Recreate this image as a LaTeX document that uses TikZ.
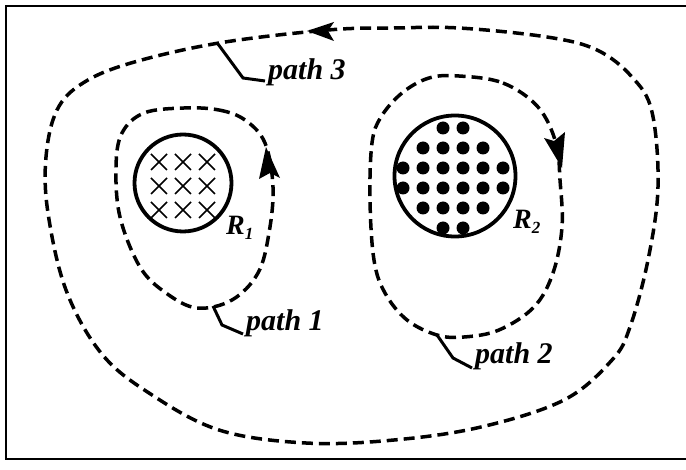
\documentclass[tikz,border=0pt]{standalone}
\usepackage{fontspec}
\setmainfont{Liberation Serif}
\begin{document}
\begin{tikzpicture}[x=1pt,y=-1pt,
  dpath/.style={line width=3.5pt, dash pattern=on 11pt off 6pt},
  leader/.style={line width=3pt, line join=miter},
  region/.style={draw, circle, line width=3.8pt, inner sep=0pt},
  crossmark/.style={line width=1.7pt},
  lbl/.style={font=\fontsize{30}{32}\selectfont\bfseries\itshape, inner sep=0pt, anchor=base west},
  rlbl/.style={font=\fontsize{28}{30}\selectfont\bfseries\itshape, inner sep=0pt, anchor=base west},
  tipfill/.style={fill=black}]
\useasboundingbox (0,0) rectangle (686,470);
% frame
\draw[line width=2.4pt] (686,6) -- (6,6) -- (6,459) -- (686,459);

% region R1 with crosses
\node[region, minimum size=97pt] (R1) at (183,183) {};
\foreach \cx in {159,183,207}{
  \foreach \cy in {162,186,210}{
    \draw[crossmark] (\cx-8,\cy-8) -- (\cx+8,\cy+8) (\cx-8,\cy+8) -- (\cx+8,\cy-8);
  }
}
% region R2 with dots
\node[region, minimum size=121pt] (R2) at (455,176) {};
\foreach \cx in {443,463}{ \fill (\cx,128) circle (6.5pt); \fill (\cx,228) circle (6.5pt);}
\foreach \cx in {423,443,463,483}{ \fill (\cx,148) circle (6.5pt); \fill (\cx,208) circle (6.5pt);}
\foreach \cx in {403,423,443,463,483,503}{ \fill (\cx,168) circle (6.5pt); \fill (\cx,188) circle (6.5pt);}

% labels R
\node[rlbl] (R1l) at (226,235) {R\raisebox{-5pt}{\fontsize{17}{17}\selectfont 1}};
\node[rlbl] (R2l) at (513,229) {R\raisebox{-5pt}{\fontsize{17}{17}\selectfont 2}};

% path 3
\draw[dpath] plot[smooth cycle, tension=0.6] coordinates {
 (328,30) (394,28) (459,28) (547,37) (597,50) (632,77) (652,112) (658,187)
 (648,260) (630,327) (612,360) (564,400) (481,427) (394,440) (306,443)
 (219,430) (149,393) (101,353) (66,290) (48,213) (46,157) (57,110) (83,83)
 (131,63) (219,43)};
% path 1
\draw[dpath] plot[smooth cycle, tension=0.6] coordinates {
 (184,108) (219,110) (245,120) (265,143) (273,187) (269,233) (258,273)
 (232,300) (197,308) (166,293) (140,267) (120,217) (116,167) (122,133) (144,113)};
% path 2
\draw[dpath] plot[smooth cycle, tension=0.6] coordinates {
 (459,76) (503,83) (538,107) (556,143) (560,180) (562,227) (553,273)
 (534,307) (499,330) (464,337) (437,335) (407,320) (385,293) (374,260)
 (370,200) (372,143) (381,117) (402,93) (429,78)};

% arrowheads
\fill[tipfill] (307,31) -- (334,22) -- (328,31) -- (334,41) -- cycle;
\fill[tipfill] (266,147) -- (280,178) -- (270,173) -- (259,179) -- cycle;
\fill[tipfill] (562,168) -- (544,138) -- (554,141) -- (565,132) -- cycle;

% path labels with leaders
\node[lbl] (p3) at (268,80) {path 3};
\node[lbl] (p1) at (246,331) {path 1};
\node[lbl] (p2) at (475,364) {path 2};
\coordinate (b3) at (218,44);
\coordinate (b1) at (213,306);
\coordinate (b2) at (437,335);
\draw[leader] (b3) -- (243,78) -- ([xshift=-3pt,yshift=-1pt]p3.base west);
\draw[leader] (b1) -- (222,325) -- ([xshift=-3pt,yshift=-3pt]p1.base west);
\draw[leader] (b2) -- (453,358) -- ([xshift=-3pt,yshift=-4pt]p2.base west);
\end{tikzpicture}
\end{document}
